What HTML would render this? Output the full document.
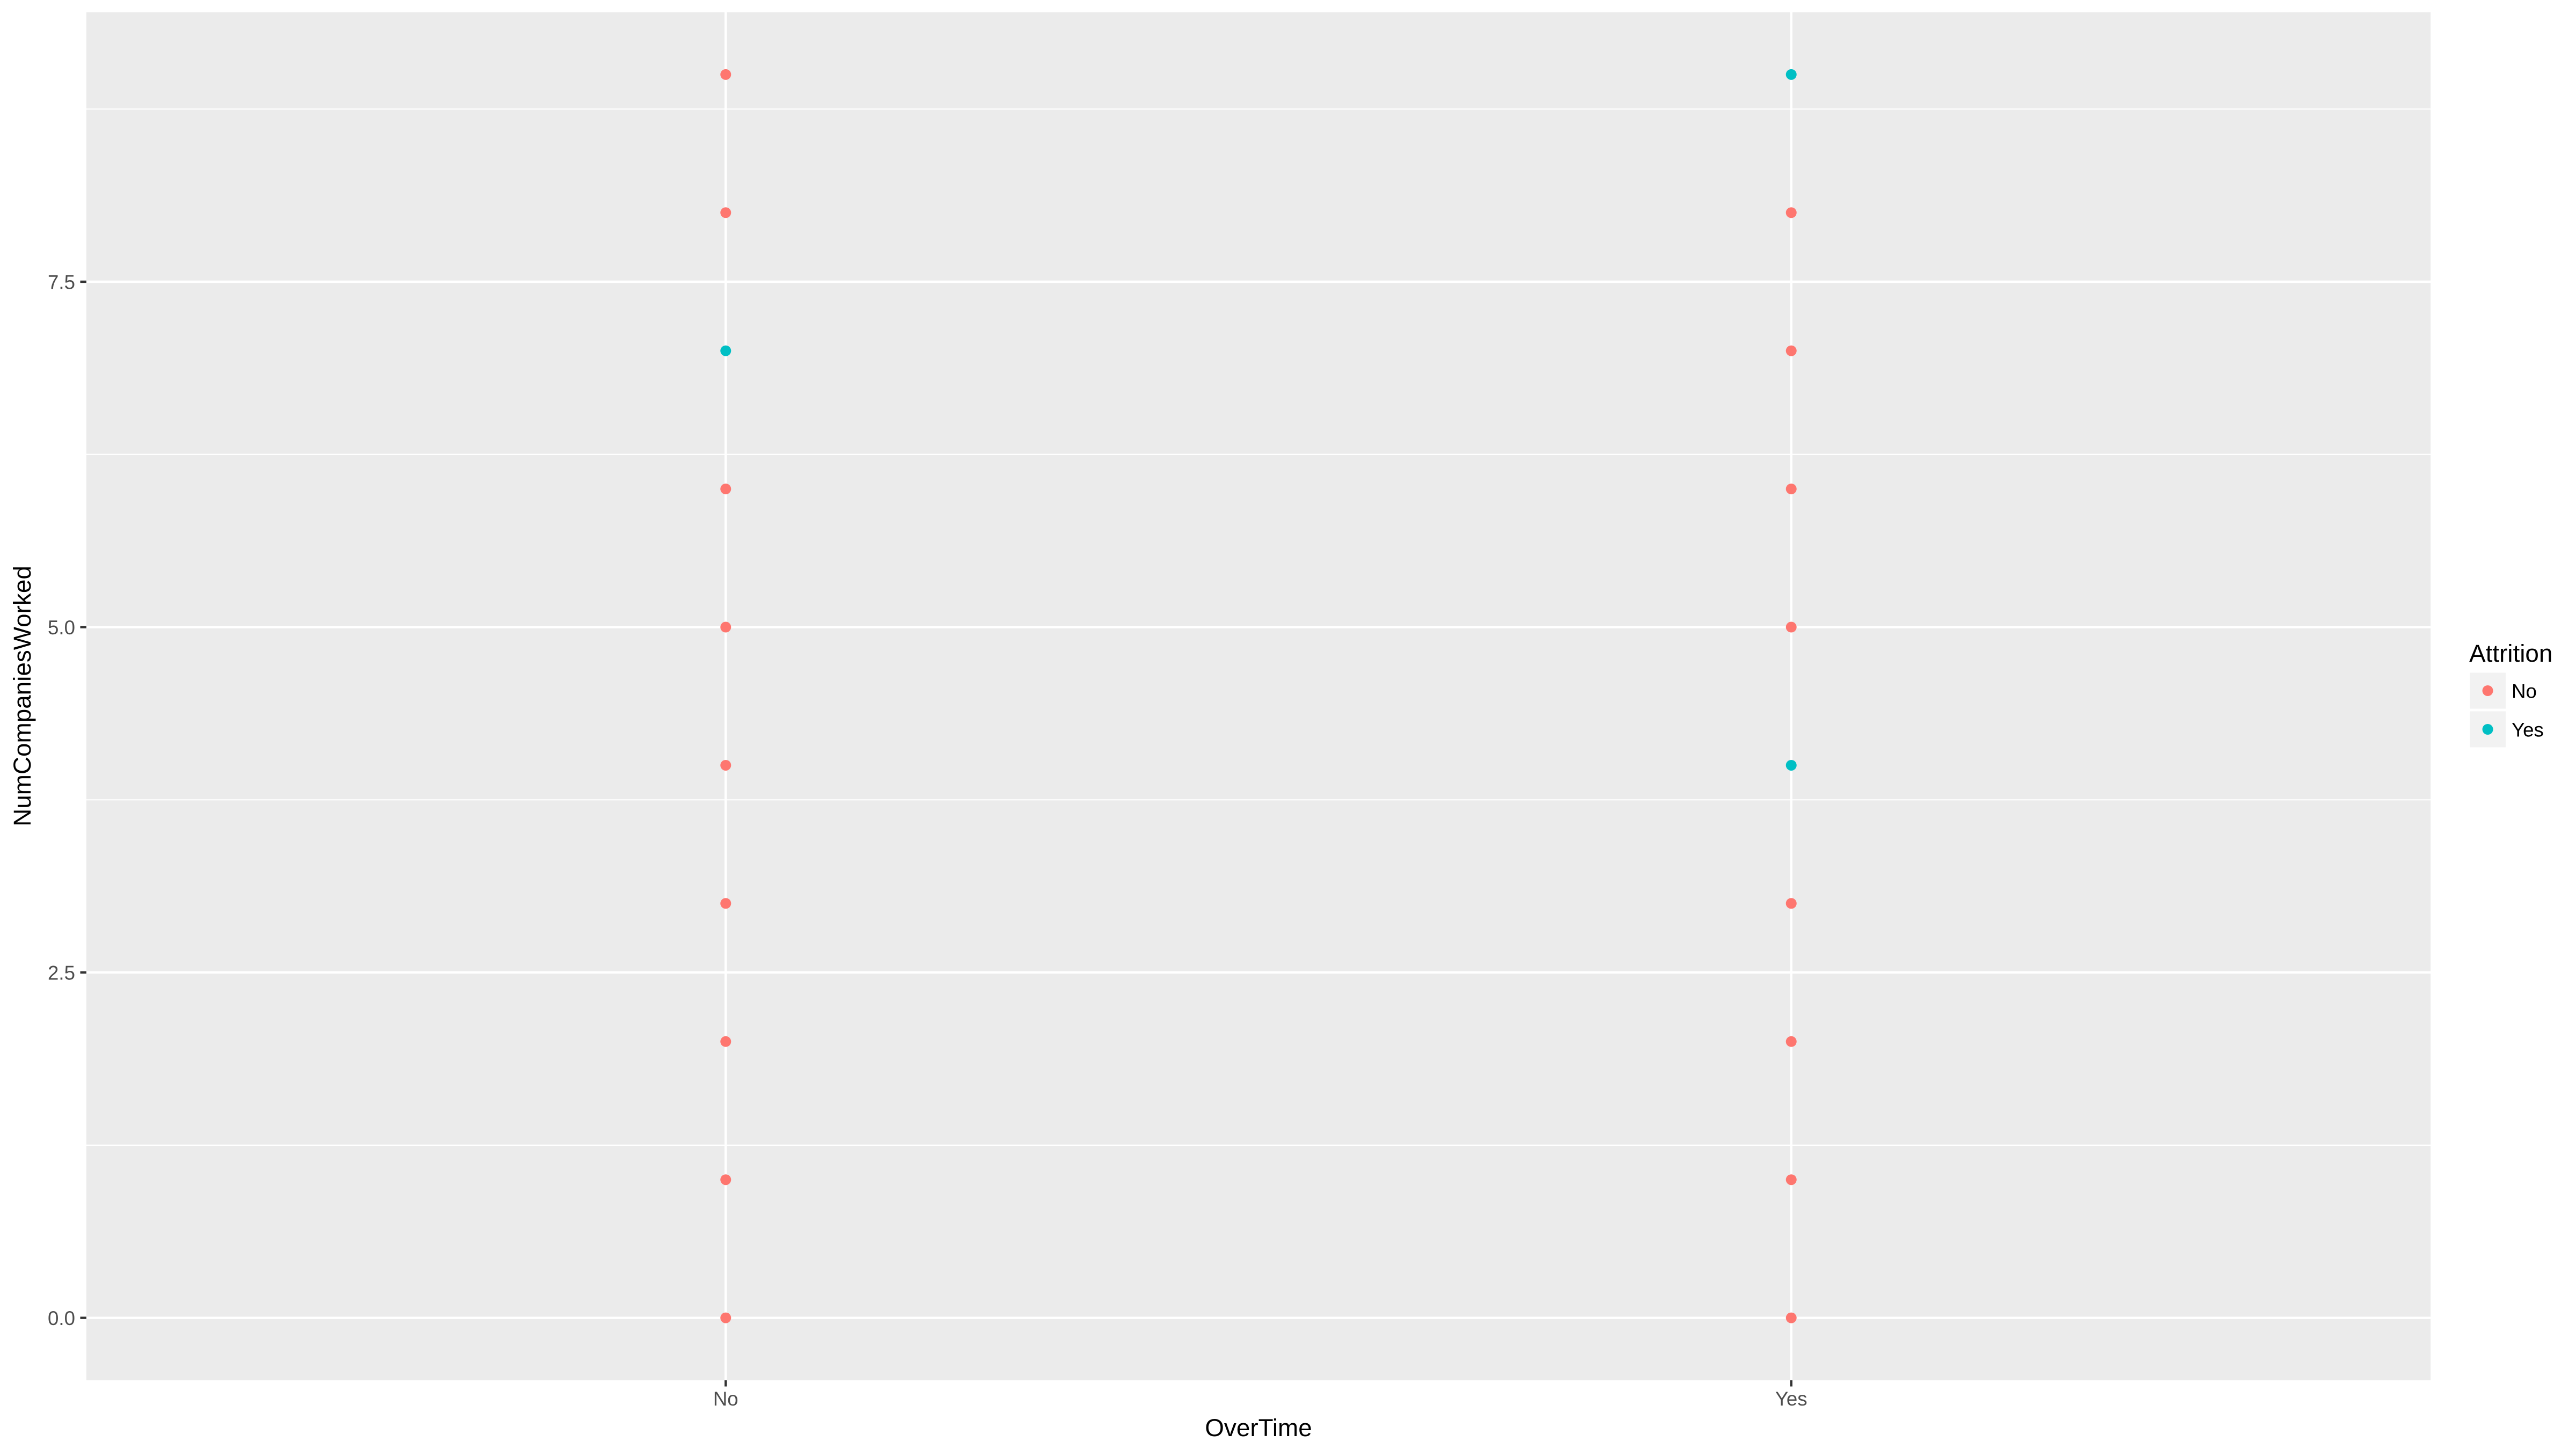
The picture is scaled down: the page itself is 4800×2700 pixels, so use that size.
<!DOCTYPE html>
<html lang="en">
<head>
<meta charset="utf-8">
<title>NumCompaniesWorked by OverTime</title>
<style>
  html, body { margin: 0; padding: 0; background: #ffffff; }
  svg { display: block; }
  text { font-family: "Liberation Sans", Arial, sans-serif; }
</style>
</head>
<body>
<svg id="chart" xmlns="http://www.w3.org/2000/svg" width="4800" height="2700" viewBox="0 0 4800 2700"></svg>
<script>
const categories = ['No', 'Yes'];
const pointCategory = ['No','No','No','No','No','No','No','No','No','No','Yes','Yes','Yes','Yes','Yes','Yes','Yes','Yes','Yes','Yes'];
const pointValue = [0,1,2,3,4,5,6,7,8,9,0,1,2,3,4,5,6,7,8,9];
const pointAttrition = ['No','No','No','No','No','No','No','Yes','No','No','No','No','No','No','Yes','No','No','No','No','Yes'];
const yMajorTicks = [0, 2.5, 5, 7.5];
const yTickLabels = ['0.0', '2.5', '5.0', '7.5'];
const yMinorTicks = [1.25, 3.75, 6.25, 8.75];
const legendLevels = ['No', 'Yes'];

const NS = 'http://www.w3.org/2000/svg';
const svg = document.getElementById('chart');
const panel = { left: 161, right: 4529, top: 23, bottom: 2572 };
const yDomain = [-0.452, 9.45];
const xDomain = [0.4, 2.6];
const colors = { No: '#FE766F', Yes: '#00BFC4' };

function xScale(cat) {
  const pos = categories.indexOf(cat) + 1;
  return panel.left + (pos - xDomain[0]) / (xDomain[1] - xDomain[0]) * (panel.right - panel.left);
}
function yScale(v) {
  return panel.bottom - (v - yDomain[0]) / (yDomain[1] - yDomain[0]) * (panel.bottom - panel.top);
}
function make(tag, attrs, text) {
  const el = document.createElementNS(NS, tag);
  for (const k in attrs) el.setAttribute(k, attrs[k]);
  if (text !== undefined) el.textContent = text;
  svg.appendChild(el);
  return el;
}

const panelRect = make('rect', { x: panel.left, y: panel.top, width: panel.right - panel.left, height: panel.bottom - panel.top, fill: '#EBEBEB' });



yMinorTicks.forEach(function (v) {
  const g = make('line', { x1: panel.left, x2: panel.right, y1: yScale(v), y2: yScale(v), stroke: '#FFFFFF', 'stroke-width': 2.2 });
  
  
});
yMajorTicks.forEach(function (v) {
  const g = make('line', { x1: panel.left, x2: panel.right, y1: yScale(v), y2: yScale(v), stroke: '#FFFFFF', 'stroke-width': 4.4 });
  
  
});
categories.forEach(function (c) {
  const g = make('line', { x1: xScale(c), x2: xScale(c), y1: panel.top, y2: panel.bottom, stroke: '#FFFFFF', 'stroke-width': 4.4 });
  
  
});

yMajorTicks.forEach(function (v, i) {
  const t = make('line', { x1: panel.left - 11.5, x2: panel.left, y1: yScale(v), y2: yScale(v), stroke: '#333333', 'stroke-width': 4.4 });
  
  
  const l = make('text', { x: 140, y: yScale(v) + 13.4, 'text-anchor': 'end', 'font-size': 36.67, fill: '#4D4D4D' }, yTickLabels[i]);
  
  
});
categories.forEach(function (c) {
  const t = make('line', { x1: xScale(c), x2: xScale(c), y1: panel.bottom, y2: panel.bottom + 11.5, stroke: '#333333', 'stroke-width': 4.4 });
  
  
  const l = make('text', { x: xScale(c), y: 2619, 'text-anchor': 'middle', 'font-size': 36.67, fill: '#4D4D4D' }, c);
  
  
});

pointValue.forEach(function (v, i) {
  const p = make('circle', { cx: xScale(pointCategory[i]), cy: yScale(v), r: 10, fill: colors[pointAttrition[i]] });
  
  
});

const xTitle = make('text', { x: 2345, y: 2676, 'text-anchor': 'middle', 'font-size': 45.83, fill: '#000000' }, 'OverTime');



const yTitle = make('text', { x: 0, y: 0, transform: 'translate(57 1297) rotate(-90)', 'text-anchor': 'middle', 'font-size': 45.83, fill: '#000000' }, 'NumCompaniesWorked');



const legendTitle = make('text', { x: 4601, y: 1233, 'font-size': 45.83, fill: '#000000' }, 'Attrition');



legendLevels.forEach(function (lev, i) {
  const top = 1253.5 + i * 72;
  const key = make('rect', { x: 4602, y: top, width: 67, height: 67, fill: '#F2F2F2' });
  
  
  const dot = make('circle', { cx: 4635.5, cy: top + 33.5, r: 10, fill: colors[lev] });
  
  
  const lab = make('text', { x: 4680, y: top + 47, 'font-size': 36.67, fill: '#000000' }, lev);
  
  
});
</script>
</body>
</html>
